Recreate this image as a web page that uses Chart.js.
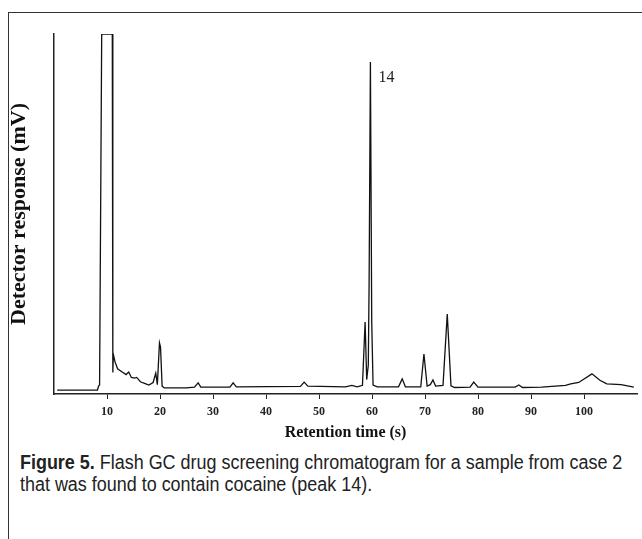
<!DOCTYPE html>
<html>
<head>
<meta charset="utf-8">
<script src="https://cdn.jsdelivr.net/npm/chart.js@4"></script>
<style>
  body { margin: 0; background: #fff; }
  #frame { position: absolute; left: 8px; top: 12px; width: 700px; height: 600px;
           border-left: 1.5px solid #333; border-top: 1.5px solid #333; }
  #wrap { position: absolute; left: 0; top: 0; width: 642px; height: 450px; }
  #caption { position: absolute; left: 20px; top: 451px;
             font-family: "Liberation Sans", Arial, sans-serif;
             font-size: 20px; line-height: 22px; color: #222; }
  #caption span { display: inline-block; white-space: nowrap; transform-origin: left center; }
</style>
</head>
<body>
<div id="frame"></div>
<div id="wrap"><canvas id="myChart"></canvas></div>
<div id="caption"><span id="cap1"><b>Figure 5.</b> Flash GC drug screening chromatogram for a sample from case 2</span><br><span id="cap2">that was found to contain cocaine (peak 14).</span></div>
<script>
// retention time (s) and detector response (arbitrary, top of plot = 100)
let retentionTimes = [0.6, 8.2, 8.4, 8.6, 9.0, 11.0, 11.1, 11.2, 11.5, 12.0, 12.8, 13.6, 14.1, 14.6, 15.2, 15.6,
    16.3, 17.2, 17.9, 18.7, 19.2, 19.5, 19.9, 20.1, 20.4, 20.8, 25.0, 26.5, 27.2, 27.7, 33.2, 33.8, 34.4,
    46.5, 47.2, 47.9, 55.0, 56.2, 57.2, 58.2, 58.7, 59.0, 59.3, 59.45, 59.7, 59.95, 60.2, 61.0,
    65.0, 65.7, 66.3, 69.2, 69.8, 70.4, 71.0, 71.5, 72.0, 73.4, 74.2, 74.9, 75.6, 78.5, 79.2, 80.0,
    87.0, 87.7, 88.4, 92.0, 96.5, 97.5, 99.0, 101.5, 103.0, 104.3, 107.0, 109.4];
let detectorResponse = [1.1, 1.1, 2.2, 2.5, 100, 100, 6, 11, 9, 7, 6.2, 5.4, 6.1, 4.6, 4.4, 4.6,
    3.4, 2.9, 2.5, 3.2, 5.8, 2.6, 14.2, 13, 2.2, 1.7, 1.7, 1.9, 3.1, 1.9, 1.9, 3.1, 2.0,
    2.1, 3.3, 2.2, 2.0, 2.4, 2.0, 2.4, 20, 4, 8, 30, 92.2, 20, 2.5, 2.0,
    2.0, 4.2, 2.0, 2.0, 11.1, 2.2, 2.6, 3.9, 2.2, 2.4, 22.2, 2.3, 1.8, 1.9, 3.3, 1.9,
    1.9, 2.5, 1.8, 1.9, 2.4, 2.8, 3.2, 5.6, 3.8, 2.8, 2.6, 1.9];
let tickValues = [10, 20, 30, 40, 50, 60, 70, 80, 90, 100];
let peakLabel = "14";
let peakTime = 59.7;
let peakValue = 92.2;

// squeeze the caption to the width of the printed one
let cap1 = document.getElementById("cap1");
let squeeze = 602 / cap1.offsetWidth;
cap1.style.transform = `scaleX(${squeeze})`;
document.getElementById("cap2").style.transform = `scaleX(${squeeze})`;

let points = retentionTimes.map((t, i) => ({ x: t, y: detectorResponse[i] }));

const peakLabelPlugin = {
    id: 'peakLabel',
    afterDatasetsDraw(chart) {
        const ctx = chart.ctx;
        const x = chart.scales.x.getPixelForValue(peakTime) + 8;
        const y = chart.scales.y.getPixelForValue(peakValue) + 16;
        ctx.save();
        ctx.font = '16px "Liberation Serif"';
        ctx.fillStyle = '#222';
        ctx.textBaseline = 'middle';
        ctx.fillText(peakLabel, x, y);
        ctx.restore();
    }
};

const myChart = new Chart(document.getElementById("myChart").getContext("2d"), {
    type: 'line',
    data: {
        datasets: [{
            label: "Detector response",
            data: points,
            borderColor: '#111',
            borderWidth: 1.3,
            pointRadius: 0,
            tension: 0,
            fill: false
        }]
    },
    plugins: [peakLabelPlugin],
    options: {
        responsive: true,
        maintainAspectRatio: false,
        animation: false,
        layout: { padding: { left: 0, top: 34, right: 5, bottom: 0 } },
        plugins: { legend: { display: false }, tooltip: { enabled: false } },
        scales: {
            x: {
                type: 'linear',
                min: 0,
                max: 110,
                afterBuildTicks: axis => { axis.ticks = tickValues.map(v => ({ value: v })); },
                afterFit: axis => { axis.height = 56; },
                grid: { drawOnChartArea: false, tickLength: 5, color: '#222', lineWidth: 1 },
                border: { color: '#222', width: 1.5 },
                ticks: {
                    autoSkip: false,
                    maxRotation: 0,
                    padding: 6,
                    color: '#222',
                    font: { family: 'Liberation Serif', size: 12, weight: 'bold' }
                },
                title: {
                    display: true,
                    text: 'Retention time (s)',
                    color: '#111',
                    padding: { top: 0, bottom: 8 },
                    font: { family: 'Liberation Serif', size: 16, weight: 'bold' }
                }
            },
            y: {
                min: 0,
                max: 100,
                afterFit: axis => { axis.width = 54; },
                grid: { display: false },
                border: { color: '#222', width: 1.5 },
                ticks: { display: false },
                title: {
                    display: true,
                    text: 'Detector response (mV)',
                    color: '#111',
                    padding: { top: 6, bottom: 0 },
                    font: { family: 'Liberation Serif', size: 22, weight: 'bold' }
                }
            }
        }
    }
});
</script>
</body>
</html>
